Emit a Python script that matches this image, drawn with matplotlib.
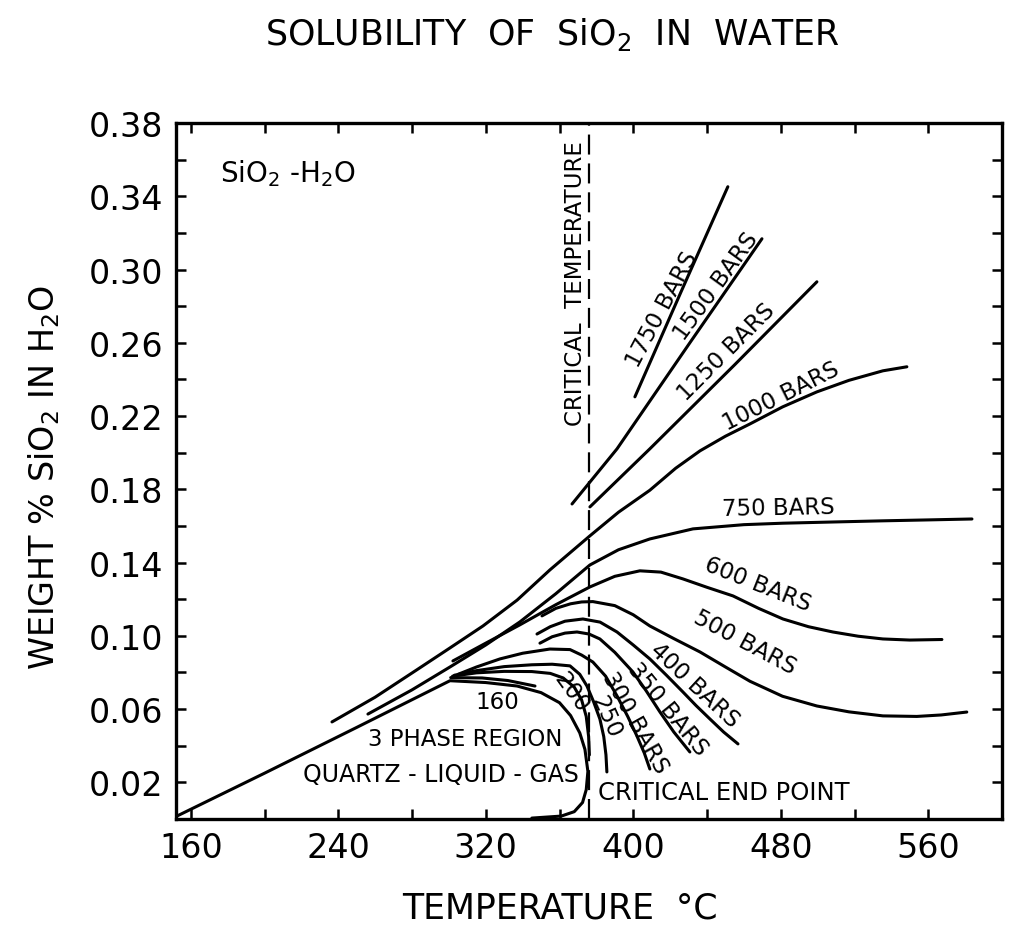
import matplotlib
matplotlib.use("Agg")
import matplotlib.pyplot as plt

# ---------------- data (temperature degC, weight % SiO2) ----------------
T_1750 = [400.9, 426.0, 451.3]
W_1750 = [0.2305, 0.2880, 0.3452]

T_1500 = [366.8, 391.2, 430.7, 469.8]
W_1500 = [0.1720, 0.2021, 0.2600, 0.3168]

T_1250 = [376.5, 409.0, 455.0, 499.6]
W_1250 = [0.1704, 0.2021, 0.2480, 0.2933]

T_1000 = [236.6, 260.0, 282.7, 300.0, 318.5, 337.0, 354.8, 376.5, 392.0, 409.0,
          423.0, 436.2, 450.0, 463.3, 481.0, 499.6, 517.0, 535.4, 548.4]
W_1000 = [0.0530, 0.0665, 0.0815, 0.0930, 0.1054, 0.1195, 0.1360, 0.1546, 0.1675, 0.1795,
          0.1915, 0.2010, 0.2090, 0.2157, 0.2250, 0.2332, 0.2395, 0.2447, 0.2469]

T_750 = [256.1, 280.0, 300.6, 320.0, 338.5, 358.0, 376.5, 392.0, 409.0, 432.4,
         460.0, 481.2, 510.0, 535.4, 560.0, 583.7]
W_750 = [0.0573, 0.0705, 0.0830, 0.0950, 0.1076, 0.1230, 0.1387, 0.1470, 0.1529, 0.1584,
         0.1607, 0.1615, 0.1622, 0.1628, 0.1633, 0.1638]

T_600 = [302.2, 320.0, 338.5, 358.0, 376.5, 390.0, 403.6, 415.0, 426.9, 440.0,
         454.1, 468.0, 481.2, 495.0, 508.3, 522.0, 535.4, 550.0, 567.4]
W_600 = [0.0863, 0.0960, 0.1060, 0.1170, 0.1267, 0.1325, 0.1355, 0.1348, 0.1311, 0.1265,
         0.1218, 0.1150, 0.1092, 0.1050, 0.1021, 0.0998, 0.0983, 0.0977, 0.0980]

T_500 = [350.5, 358.0, 366.0, 372.0, 378.1, 390.0, 400.0, 409.0, 422.0, 436.2,
         450.0, 463.3, 481.0, 499.6, 517.0, 535.4, 553.8, 567.0, 580.9]
W_500 = [0.1109, 0.1150, 0.1175, 0.1185, 0.1187, 0.1165, 0.1115, 0.1054, 0.0985, 0.0912,
         0.0830, 0.0752, 0.0670, 0.0617, 0.0585, 0.0563, 0.0560, 0.0568, 0.0584]

T_400 = [347.8, 355.0, 363.0, 372.7, 382.0, 391.2, 400.0, 409.0, 418.0, 426.9,
         434.0, 441.6, 449.0, 456.8]
W_400 = [0.1010, 0.1050, 0.1080, 0.1092, 0.1075, 0.1021, 0.0950, 0.0874, 0.0785, 0.0694,
         0.0620, 0.0546, 0.0475, 0.0410]

T_350 = [349.4, 356.0, 363.0, 369.5, 376.0, 381.9, 390.0, 399.8, 407.0, 414.5, 422.0, 430.7]
W_350 = [0.0960, 0.0995, 0.1015, 0.1021, 0.1010, 0.0983, 0.0910, 0.0803, 0.0700, 0.0584,
         0.0475, 0.0366]

T_300 = [305.0, 315.0, 327.7, 340.0, 354.8, 365.7, 372.0, 378.1, 385.0, 391.2,
         397.0, 402.0, 406.0, 409.0]
W_300 = [0.0790, 0.0830, 0.0874, 0.0905, 0.0928, 0.0925, 0.0895, 0.0857, 0.0780, 0.0672,
         0.0560, 0.0453, 0.0360, 0.0273]

T_250 = [303.0, 315.0, 330.0, 345.0, 356.0, 365.7, 371.0, 374.9, 378.5, 381.9,
         384.0, 385.2, 385.7]
W_250 = [0.0785, 0.0810, 0.0832, 0.0842, 0.0845, 0.0836, 0.0790, 0.0726, 0.0640, 0.0546,
         0.0450, 0.0350, 0.0257]

T_200 = [302.0, 315.0, 330.0, 345.0, 355.0, 362.0, 368.0, 372.0, 374.5, 375.8, 376.2]
W_200 = [0.0780, 0.0798, 0.0806, 0.0805, 0.0795, 0.0770, 0.0720, 0.0650, 0.0560, 0.0450,
         0.0350]

T_160 = [301.0, 318.0, 332.0, 346.7]
W_160 = [0.0772, 0.0770, 0.0756, 0.0726]

# three-phase (quartz-liquid-gas) boundary
T_3ph = [152.5, 200.0, 250.0, 300.6, 320.0, 337.0, 350.0, 360.0, 366.0, 371.0,
         373.8, 375.4, 374.5, 372.5, 368.0, 361.0, 345.0]
W_3ph = [0.0016, 0.0250, 0.0500, 0.0755, 0.0745, 0.0726, 0.0690, 0.0635, 0.0565, 0.0470,
         0.0380, 0.0260, 0.0160, 0.0090, 0.0040, 0.0016, 0.0005]

T_crit = 376.0

x_ticks = [160, 200, 240, 280, 320, 360, 400, 440, 480, 520, 560, 600]
x_labels = ["160", "", "240", "", "320", "", "400", "", "480", "", "560", ""]
y_ticks = [0.00, 0.02, 0.04, 0.06, 0.08, 0.10, 0.12, 0.14, 0.16, 0.18, 0.20,
           0.22, 0.24, 0.26, 0.28, 0.30, 0.32, 0.34, 0.36, 0.38]
y_labels = ["", "0.02", "", "0.06", "", "0.10", "", "0.14", "", "0.18", "",
            "0.22", "", "0.26", "", "0.30", "", "0.34", "", "0.38"]

# ---------------- figure ----------------
plt.rcParams["font.family"] = ["DejaVu Sans"]
plt.rcParams["mathtext.fontset"] = "dejavusans"

fig = plt.figure(figsize=(10.11, 9.28), dpi=100)
ax = fig.add_axes([176 / 1011, 1 - 820 / 928, 826 / 1011, 696 / 928])
ax.set_xlim(152, 600)
ax.set_ylim(0, 0.38)

lw = 2.2
curves = [(T_1750, W_1750), (T_1500, W_1500), (T_1250, W_1250), (T_1000, W_1000),
          (T_750, W_750), (T_600, W_600), (T_500, W_500), (T_400, W_400),
          (T_350, W_350), (T_300, W_300), (T_250, W_250), (T_200, W_200),
          (T_160, W_160), (T_3ph, W_3ph)]
for t, w in curves:
    ax.plot(t, w, color="black", lw=lw, solid_capstyle="round", solid_joinstyle="round")

ax.axvline(T_crit, color="black", lw=1.6, linestyle=(0, (9, 4)))

# ticks
ax.set_xticks(x_ticks)
ax.set_xticklabels(x_labels)
ax.set_yticks(y_ticks)
ax.set_yticklabels(y_labels)
ax.tick_params(direction="in", length=7, width=1.8, top=True, right=True,
               labelsize=24, pad=9)
for s in ax.spines.values():
    s.set_linewidth(2.4)

# labels on curves
fs = 16.5
def lab(txt, t, w, rot=0, ha="center", size=fs):
    ax.text(t, w, txt, rotation=rot, ha=ha, va="center", fontsize=size,
            rotation_mode="anchor")

lab("1750 BARS", 415.6, 0.2785, 62)
lab("1500 BARS", 444.8, 0.2911, 54)
lab("1250 BARS", 450.3, 0.2551, 45)
lab("1000 BARS", 480.1, 0.2310, 26.6)
lab("750 BARS", 478.5, 0.1699, 1)
lab("600 BARS", 467.6, 0.1283, -21.7)
lab("500 BARS", 460.6, 0.0967, -28)
lab("400 BARS", 433.5, 0.0732, -43)
lab("350 BARS", 418.8, 0.0601, -50.7)
lab("300 BARS", 400.9, 0.0530, -60.8)
lab("250", 385.2, 0.0563, -66)
lab("200", 366.7, 0.0694, -54)
lab("160", 326.1, 0.0644, 0)
lab("3 PHASE REGION", 308.7, 0.0437, 0, size=16.5)
lab("QUARTZ - LIQUID - GAS", 295.7, 0.0246, 0, size=17)
lab("CRITICAL END POINT", 380.8, 0.0147, 0, ha="left", size=17.5)
lab("CRITICAL  TEMPERATURE", 368.9, 0.2927, 90, size=16.5)
ax.text(175.9, 0.3484, "SiO$_2$ -H$_2$O", fontsize=20, ha="left", va="baseline")

fig.text(552 / 1011, 1 - 45 / 928, "SOLUBILITY  OF  SiO$_2$  IN  WATER",
         fontsize=25, ha="center", va="baseline")
fig.text(560 / 1011, 1 - 909 / 928, "TEMPERATURE  °C", fontsize=25,
         ha="center", va="center")
fig.text(44 / 1011, 1 - 478 / 928, "WEIGHT % SiO$_2$ IN H$_2$O", fontsize=24,
         ha="center", va="center", rotation=90)

fig.savefig("out.png", dpi=100)
